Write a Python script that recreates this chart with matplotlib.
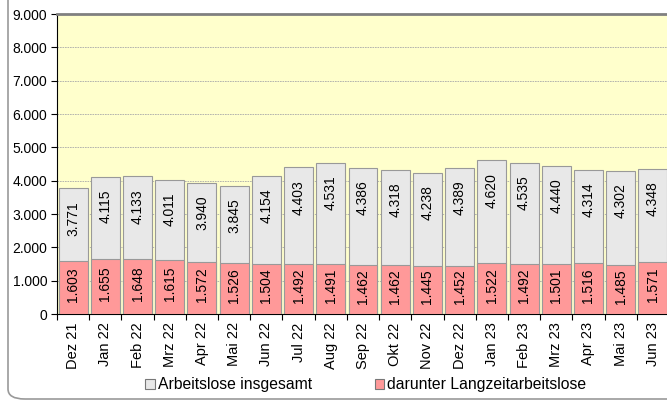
import matplotlib
matplotlib.use("Agg")
from matplotlib import pyplot as plt
from matplotlib.patches import FancyBboxPatch, Rectangle
from matplotlib.ticker import FuncFormatter
import numpy as np

plt.rcParams['font.family'] = ['Liberation Sans', 'DejaVu Sans']

monate = ["Dez 21", "Jan 22", "Feb 22", "Mrz 22", "Apr 22", "Mai 22", "Jun 22",
          "Jul 22", "Aug 22", "Sep 22", "Okt 22", "Nov 22", "Dez 22", "Jan 23",
          "Feb 23", "Mrz 23", "Apr 23", "Mai 23", "Jun 23"]
insgesamt = [3771, 4115, 4133, 4011, 3940, 3845, 4154, 4403, 4531, 4386,
             4318, 4238, 4389, 4620, 4535, 4440, 4314, 4302, 4348]
langzeit = [1603, 1655, 1648, 1615, 1572, 1526, 1504, 1492, 1491, 1462,
            1462, 1445, 1452, 1522, 1492, 1501, 1516, 1485, 1571]

def de(v):
    return f"{v:,.0f}".replace(",", ".")

W, H = 667, 401
fig = plt.figure(figsize=(W / 100, H / 100), dpi=100)

# Rahmen um die Grafik (oben und rechts abgeschnitten)
rahmen = FancyBboxPatch((8 / W, 2 / H), 1.2, 1.2, boxstyle="round,pad=0,rounding_size=0.025",
                        transform=fig.transFigure, facecolor="none", edgecolor="#999999",
                        linewidth=1.2, zorder=0)
fig.patches.append(rahmen)

ax = fig.add_axes([57 / W, (H - 314) / H, 612 / W, 300 / H])
ax.set_facecolor("#FFFFCC")

x = np.arange(len(monate))
ax.bar(x, insgesamt, width=0.9, color="#E8E8E8", edgecolor="#999999", linewidth=0.8,
       label="Arbeitslose insgesamt", zorder=2)
ax.bar(x, langzeit, width=0.9, color="#FF9999", edgecolor="#999999", linewidth=0.8,
       label="darunter Langzeitarbeitslose", zorder=3)

for i in x:
    ax.text(i, insgesamt[i] - 380, de(insgesamt[i]), rotation=90, ha="center", va="top",
            fontsize=10, zorder=4)
    ax.text(i, langzeit[i] / 2 + 90, de(langzeit[i]), rotation=90, ha="center", va="center",
            fontsize=10, zorder=4)

ax.set_xlim(-0.5, len(monate) - 0.5)
ax.set_ylim(0, 9000)
ax.set_yticks(range(0, 9001, 1000))
ax.yaxis.set_major_formatter(FuncFormatter(lambda v, p: de(v)))
ax.set_xticks(x)
ax.set_xticklabels(monate, rotation=90, fontsize=10.5)
ax.set_xticks(np.arange(-0.5, len(monate), 1), minor=True)
ax.tick_params(axis="x", which="major", length=0, pad=6)
ax.tick_params(axis="x", which="minor", length=4, width=0.8, direction="out")
ax.tick_params(axis="y", length=4, width=0.8, labelsize=10, pad=3)

ax.grid(axis="y", color="#AAAAAA", linestyle=(0, (2, 1)), linewidth=0.6, zorder=1)
ax.set_axisbelow(True)

ax.spines["top"].set_color("#808080")
ax.spines["top"].set_linewidth(2)
ax.spines["left"].set_color("black")
ax.spines["bottom"].set_color("black")
ax.spines["right"].set_visible(False)

handles, labels = ax.get_legend_handles_labels()
handles = [Rectangle((0, 0), 1, 1, facecolor=h.patches[0].get_facecolor(),
                     edgecolor="#777777", linewidth=0.8) for h in handles]
fig.legend(handles, labels, loc="center", bbox_to_anchor=(366 / W, 1 - 385 / H), ncol=2,
           frameon=False, fontsize=11.3, handlelength=0.6, handleheight=0.6,
           handletextpad=0.2, columnspacing=4.0)

fig.savefig("out.png", dpi=100)
